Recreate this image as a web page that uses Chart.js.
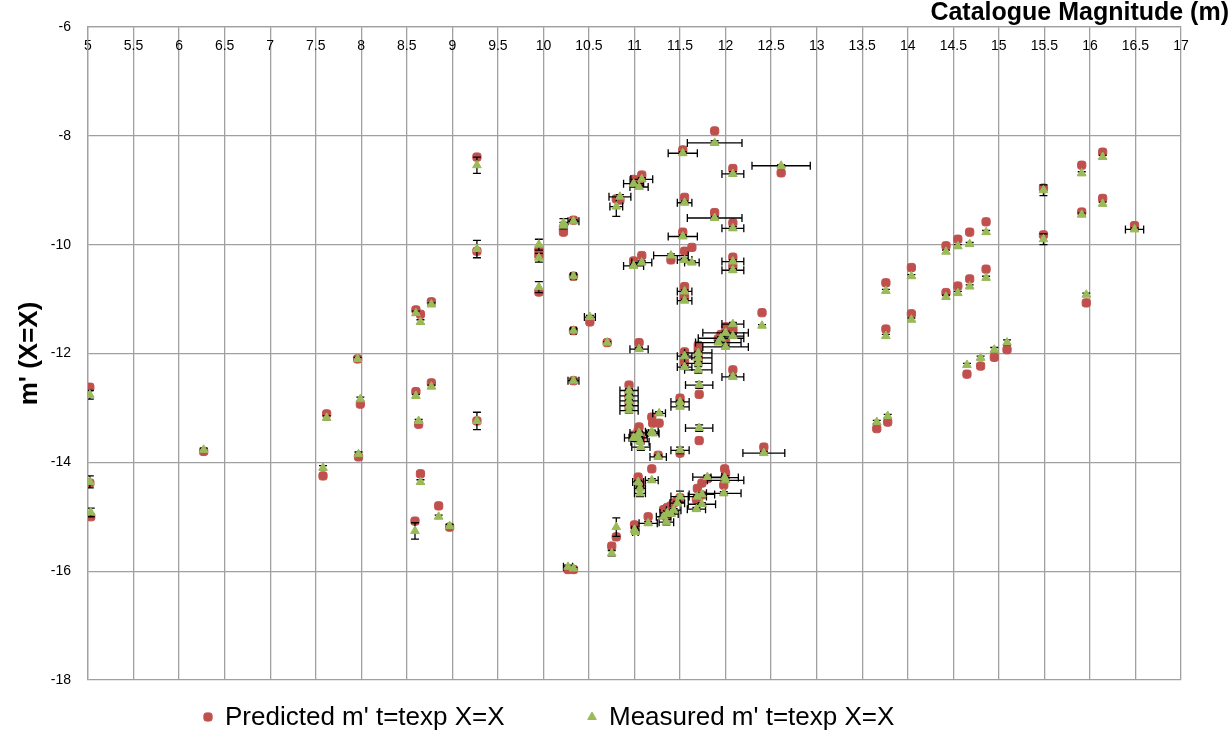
<!DOCTYPE html>
<html><head><meta charset="utf-8">
<script src="https://cdn.jsdelivr.net/npm/chart.js@4.4.0/dist/chart.umd.min.js"></script>
<style>html,body{margin:0;padding:0;background:#fff;}#wrap{width:1229px;height:738px;}</style>
</head><body><div id="wrap"><canvas id="c" width="1229" height="738"></canvas></div>
<script>
// Catalogue magnitude (x), predicted and measured m' (y), error bars of measured
const catalogue = [5.02,5.02,5.03,6.27,7.58,7.62,7.96,7.99,7.97,8.6,8.65,8.77,8.6,8.77,8.63,8.65,8.59,8.85,8.97,9.27,9.27,9.27,9.95,9.95,9.95,10.22,10.22,10.33,10.33,10.51,10.33,10.7,10.33,10.8,10.84,10.27,10.33,10.8,10.75,11.88,11.53,12.08,12.61,11.08,10.99,11.05,11.55,11.88,12.08,11.53,11.63,11.55,11.4,10.99,11.08,12.08,12.08,11.05,11.55,11.55,12.4,12.08,12.08,12.0,11.95,11.92,12.0,11.7,11.7,11.7,11.7,11.55,11.55,11.71,12.08,10.94,10.94,10.94,10.94,10.94,11.5,11.5,11.19,11.2,11.27,11.05,11.04,11.06,10.99,11.07,11.71,11.5,11.26,12.42,11.19,11.04,11.06,11.06,11.99,12.0,11.8,11.74,11.98,11.69,11.5,11.47,11.43,11.4,11.36,11.32,11.74,11.68,11.35,11.15,11.0,11.01,13.76,14.04,13.76,14.04,14.42,14.55,14.68,14.86,14.42,14.55,14.68,14.86,14.65,14.8,14.95,15.09,13.66,13.78,15.49,15.91,16.14,15.91,16.14,16.49,15.49,15.96];
const predicted = [-12.62,-14.38,-15.0,-13.8,-14.25,-13.11,-12.1,-12.93,-13.9,-11.2,-11.28,-11.05,-12.7,-12.54,-13.3,-14.21,-15.08,-14.8,-15.19,-8.39,-10.12,-13.24,-10.1,-10.2,-10.87,-9.77,-9.7,-9.55,-10.58,-11.42,-11.58,-11.8,-12.5,-9.16,-9.18,-15.97,-15.97,-15.37,-15.54,-7.91,-8.26,-8.6,-8.68,-8.72,-8.8,-8.88,-9.13,-9.41,-9.6,-9.77,-10.05,-10.12,-10.28,-10.3,-10.2,-10.23,-10.4,-11.8,-10.77,-10.95,-11.25,-11.53,-11.6,-11.51,-11.65,-11.73,-11.78,-11.85,-11.93,-12.03,-12.12,-11.97,-12.15,-12.75,-12.3,-12.58,-12.7,-12.8,-12.9,-13.0,-12.82,-12.9,-13.17,-13.28,-13.28,-13.35,-13.42,-13.5,-13.5,-13.58,-13.6,-13.83,-13.87,-13.72,-14.12,-14.27,-14.38,-14.45,-14.12,-14.2,-14.3,-14.38,-14.42,-14.48,-14.65,-14.7,-14.75,-14.8,-14.83,-14.87,-14.6,-14.68,-15.0,-15.0,-15.15,-15.25,-10.7,-10.42,-11.55,-11.27,-10.02,-9.9,-9.77,-9.58,-10.88,-10.76,-10.63,-10.45,-12.38,-12.23,-12.07,-11.93,-13.38,-13.26,-8.96,-8.54,-8.3,-9.4,-9.15,-9.65,-9.82,-11.07];
const measured = [-12.76,-14.36,-14.92,-13.77,-14.1,-13.18,-12.1,-12.84,-13.85,-11.26,-11.42,-11.1,-12.78,-12.61,-13.24,-14.36,-15.26,-15.0,-15.17,-8.54,-10.08,-13.24,-10.0,-10.24,-10.78,-9.6,-9.65,-9.57,-10.58,-11.33,-11.58,-11.8,-12.5,-9.3,-9.12,-15.92,-15.95,-15.19,-15.67,-8.13,-8.32,-8.7,-8.55,-8.8,-8.88,-8.94,-9.23,-9.51,-9.7,-9.85,-10.33,-10.28,-10.2,-10.39,-10.33,-10.31,-10.47,-11.92,-10.86,-11.03,-11.49,-11.46,-11.68,-11.62,-11.72,-11.8,-11.88,-11.99,-12.08,-12.18,-12.3,-12.05,-12.25,-12.58,-12.43,-12.68,-12.78,-12.87,-12.96,-13.05,-12.89,-12.98,-13.44,-13.47,-13.1,-13.46,-13.55,-13.62,-13.55,-13.72,-13.37,-13.78,-13.9,-13.83,-14.33,-14.36,-14.48,-14.57,-14.28,-14.33,-14.27,-14.59,-14.57,-14.63,-14.63,-14.75,-14.88,-14.95,-14.93,-15.0,-14.77,-14.86,-15.1,-15.12,-15.24,-15.28,-10.85,-10.58,-11.68,-11.38,-10.13,-10.03,-9.99,-9.77,-10.96,-10.89,-10.77,-10.61,-12.21,-12.08,-11.93,-11.8,-13.26,-13.15,-9.0,-8.69,-8.39,-9.45,-9.25,-9.72,-9.9,-10.92];
const xErr = [0,0,0,0,0,0,0,0,0,0,0,0,0,0,0,0,0,0,0,0,0,0,0,0,0,0,0,0.06,0.03,0.06,0.03,0,0.06,0.07,0.12,0.05,0,0,0,0.3,0.16,0.12,0.32,0.12,0.11,0.1,0.08,0.3,0.12,0.16,0.08,0.08,0.19,0.11,0.11,0.12,0.12,0.1,0.08,0.08,0,0.12,0.12,0.25,0.25,0.25,0.25,0.15,0.15,0.15,0.15,0.08,0.08,0.15,0.12,0.1,0.1,0.1,0.1,0.1,0.1,0.1,0.07,0.07,0.07,0.1,0.1,0.1,0.1,0.1,0.15,0.1,0.09,0.23,0.07,0.06,0.06,0.06,0.15,0.2,0.16,0.14,0.19,0.1,0.1,0.08,0.08,0.08,0.08,0.08,0.15,0.1,0.08,0.1,0.03,0.03,0,0,0,0,0,0,0,0,0,0,0,0,0,0,0,0,0,0,0,0,0,0,0,0.1,0,0];
const yErr = [0.08,0.11,0.08,0.03,0.04,0.04,0.03,0.04,0.04,0.04,0.04,0.03,0.03,0.03,0.03,0.04,0.15,0.03,0.03,0.15,0.16,0.16,0.1,0.08,0.1,0.08,0.06,0.03,0.03,0.03,0.03,0.02,0.03,0.18,0.04,0.03,0.02,0.17,0.05,0.04,0.03,0.04,0.02,0.03,0.03,0.03,0.03,0.03,0.03,0.03,0.03,0.03,0.03,0.03,0.03,0.03,0.03,0.03,0.03,0.03,0.02,0.03,0.03,0.03,0.03,0.03,0.03,0.03,0.03,0.03,0.06,0.03,0.03,0.06,0.03,0.03,0.03,0.03,0.03,0.05,0.03,0.03,0.03,0.03,0.03,0.03,0.03,0.03,0.03,0.06,0.06,0.06,0.03,0.03,0.03,0.03,0.03,0.06,0.03,0.03,0.03,0.03,0.03,0.03,0.1,0.03,0.03,0.03,0.03,0.03,0.03,0.03,0.05,0.03,0.03,0.03,0.03,0.03,0.03,0.03,0.03,0.03,0.03,0.03,0.03,0.03,0.03,0.03,0.03,0.03,0.04,0.05,0.03,0.03,0.1,0.03,0.03,0.03,0.03,0.03,0.1,0.03];
const xTickValues = [5,5.5,6,6.5,7,7.5,8,8.5,9,9.5,10,10.5,11,11.5,12,12.5,13,13.5,14,14.5,15,15.5,16,16.5,17];
const yTickValues = [-18,-16,-14,-12,-10,-8,-6];
const seriesNames = ["Predicted m' t=texp X=X", "Measured m' t=texp X=X"];
const xTitle = "Catalogue Magnitude (m)";
const yTitle = "m' (X=X)";

const FONT = "'Liberation Sans', Arial, sans-serif";
const RED = '#C0504D', GREEN = '#9BBB59', GRID = '#A0A0A0';

const errorBars = {
  id: 'errorBars',
  afterDatasetDraw(chart, args) {
    if (args.index !== 0) return;
    const xs = chart.scales.x, ys = chart.scales.y, ctx = chart.ctx, a = chart.chartArea;
    ctx.save();
    ctx.beginPath(); ctx.rect(a.left, a.top, a.right - a.left, a.bottom - a.top); ctx.clip();
    ctx.strokeStyle = '#000'; ctx.lineWidth = 1.3;
    const cap = 4;
    ctx.beginPath();
    for (let i = 0; i < catalogue.length; i++) {
      const px = xs.getPixelForValue(catalogue[i]);
      const py = ys.getPixelForValue(measured[i]);
      if (yErr[i] > 0) {
        const t = ys.getPixelForValue(measured[i] + yErr[i]);
        const b = ys.getPixelForValue(measured[i] - yErr[i]);
        ctx.moveTo(px, t); ctx.lineTo(px, b);
        ctx.moveTo(px - cap, t); ctx.lineTo(px + cap, t);
        ctx.moveTo(px - cap, b); ctx.lineTo(px + cap, b);
      }
      if (xErr[i] > 0) {
        const l = xs.getPixelForValue(catalogue[i] - xErr[i]);
        const r = xs.getPixelForValue(catalogue[i] + xErr[i]);
        ctx.moveTo(l, py); ctx.lineTo(r, py);
        ctx.moveTo(l, py - cap); ctx.lineTo(l, py + cap);
        ctx.moveTo(r, py - cap); ctx.lineTo(r, py + cap);
      }
    }
    ctx.stroke();
    ctx.restore();
  }
};

const customLegend = {
  id: 'customLegend',
  afterDraw(chart) {
    const ctx = chart.ctx;
    const y = 717;
    const spots = [{mx: 208, tx: 225}, {mx: 592, tx: 609}];
    ctx.save();
    ctx.font = "26px " + FONT;
    ctx.textBaseline = 'middle';
    ctx.textAlign = 'left';
    chart.data.datasets.forEach((ds, i) => {
      const s = spots[i];
      ctx.fillStyle = ds.backgroundColor; ctx.strokeStyle = ds.borderColor; ctx.lineWidth = 1;
      Chart.helpers.drawPoint(ctx, {pointStyle: ds.pointStyle, radius: ds.pointRadius, borderWidth: 1, rotation: 0}, s.mx, y);
      ctx.fillStyle = '#000';
      ctx.fillText(ds.label, s.tx, y + 1);
    });
    ctx.restore();
  }
};

new Chart(document.getElementById('c'), {
  type: 'scatter',
  data: {
    datasets: [
      { label: seriesNames[0], data: catalogue.map((x, i) => ({x: x, y: predicted[i]})),
        pointStyle: 'rectRounded', pointRadius: 4.8, pointHoverRadius: 4.8,
        backgroundColor: RED, borderColor: RED, borderWidth: 1, order: 2 },
      { label: seriesNames[1], data: catalogue.map((x, i) => ({x: x, y: measured[i]})),
        pointStyle: 'triangle', pointRadius: 5, pointHoverRadius: 5,
        backgroundColor: GREEN, borderColor: GREEN, borderWidth: 1, order: 1 }
    ]
  },
  options: {
    responsive: false, animation: false, devicePixelRatio: 1,
    layout: { padding: { left: 0, right: 0, top: 0, bottom: 58 } },
    plugins: {
      legend: { display: false },
      tooltip: { enabled: false },
      title: { display: true, text: xTitle, align: 'end', color: '#000',
        font: { family: FONT, size: 25, weight: 'bold', lineHeight: 1.0 },
        padding: { top: 1, bottom: 1 } }
    },
    scales: {
      x: { type: 'linear', position: 'top', min: 5, max: 17,
        afterBuildTicks: s => { s.ticks = xTickValues.map(v => ({value: v})); },
        afterFit: s => { s.height = 0; },
        ticks: { mirror: true, padding: 11, autoSkip: false, maxRotation: 0, minRotation: 0, color: '#000',
          font: { family: FONT, size: 14 }, callback: v => String(v) },
        grid: { color: GRID, lineWidth: 1.3, drawTicks: false },
        border: { color: GRID, width: 1.3 } },
      y: { type: 'linear', position: 'left', min: -18, max: -6,
        afterBuildTicks: s => { s.ticks = yTickValues.map(v => ({value: v})); },
        afterFit: s => { s.width = 88; },
        ticks: { padding: 17, color: '#000', font: { family: FONT, size: 14 }, callback: v => String(v) },
        grid: { color: GRID, lineWidth: 1.3, drawTicks: false },
        border: { color: GRID, width: 1.3 },
        title: { display: true, text: yTitle, color: '#000',
          font: { family: FONT, size: 26, weight: 'bold', lineHeight: 1.2 }, padding: { top: 14, bottom: 0 } } },
      yR: { type: 'linear', position: 'right', display: true,
        afterFit: s => { s.width = 48; },
        ticks: { display: false }, grid: { display: false }, border: { display: false } }
    }
  },
  plugins: [errorBars, customLegend]
});
</script></body></html>
